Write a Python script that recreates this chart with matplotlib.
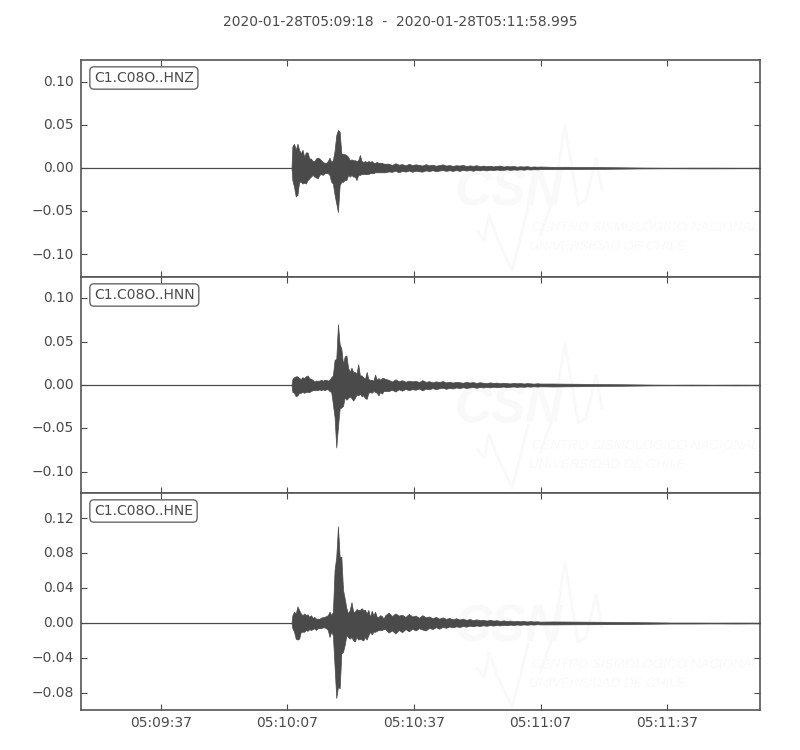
from datetime import datetime, timedelta
import matplotlib
matplotlib.use("Agg")
import matplotlib.pyplot as plt
import matplotlib.dates as mdates
from matplotlib.lines import Line2D
from matplotlib.transforms import ScaledTranslation

INK = "#4a4a4a"
TITLE = "2020-01-28T05:09:18  -  2020-01-28T05:11:58.995"
START = datetime(2020, 1, 28, 5, 9, 18)
END_SECONDS = 160.995
TICK_SECONDS = [19, 49, 79, 109, 139]
CHANNELS = ["C1.C08O..HNZ", "C1.C08O..HNN", "C1.C08O..HNE"]

PRE_T = [0, 50.0]
PRE_AMP = [0.0003, 0.0003]

EVENT_T = [50.2, 50.6, 51.0, 51.4, 51.8, 52.2, 52.6, 53.0, 53.4, 53.8, 54.2, 54.6, 55.0, 55.4,
           55.8, 56.2, 56.6, 57.0, 57.4, 57.8, 58.2, 58.6, 59.0, 59.4, 59.8, 60.2, 60.6, 61.0,
           61.4, 61.8, 62.2, 62.6, 63.0, 63.4, 63.8, 64.2, 64.6, 65.0, 65.4, 65.8, 66.2, 66.6,
           67.0, 67.4, 67.8, 68.2, 68.6, 69.0, 69.4, 69.8, 70.2, 70.6, 71.0, 71.4, 71.8, 72.2]
TAIL_T = [73.0, 73.8, 74.6, 75.4, 76.2, 77.0, 77.8, 78.6, 79.4, 80.2,
          81.0, 81.8, 82.6, 83.4, 84.2, 85.0, 85.8, 86.6, 87.4, 88.2,
          89.0, 89.8, 90.6, 91.4, 92.2, 93.0, 93.8, 94.6, 95.4, 96.2,
          97.0, 97.8, 98.6, 99.4, 100.2, 101.0, 101.8, 102.6, 103.4, 104.2,
          105.0, 105.8, 106.6, 107.4, 108.2, 109.0,
          112, 115, 118, 121, 124, 128, 132, 136, 140, 145, 150, 155, 161]

HNZ_UP = [.025, .028, .021, .028, .021, .017, .021, .013, .018, .018, .011, .011, .008, .008,
          .011, .012, .011, .009, .007, .006, .006, .008, .012, .007, .009, .020, .038, .044,
          .042, .017, .016, .016, .015, .013, .009, .010, .009, .009, .008, .009, .015, .008,
          .007, .008, .007, .008, .007, .008, .006, .006, .007, .006, .006, .006, .005, .005]
HNZ_LOW = [-.014, -.022, -.033, -.031, -.016, -.016, -.018, -.017, -.018, -.014, -.012, -.010,
           -.008, -.010, -.011, -.012, -.008, -.007, -.008, -.006, -.006, -.006, -.008, -.016,
           -.018, -.031, -.041, -.051, -.020, -.016, -.016, -.014, -.014, -.008, -.010, -.008,
           -.010, -.010, -.014, -.008, -.008, -.007, -.007, -.007, -.007, -.007, -.006, -.006,
           -.006, -.005, -.005, -.005, -.005, -.005, -.005, -.005]
HNZ_TAIL_UP = [.005, .0035, .0055, .0038, .0045, .003, .0048, .0034, .0042, .0036,
               .0028, .0044, .003, .0038, .0026, .0034, .0042, .0028, .0034, .0024,
               .0032, .0028, .0036, .0022, .003, .0025, .0032, .002, .0028, .0022,
               .0026, .0018, .0024, .0028, .0017, .0022, .0019, .0024, .0015, .002,
               .0017, .0021, .0014, .0018, .0015, .0017,
               .0013, .0014, .0011, .0012, .001, .0008, .0006, .0005, .0004, .0005, .0005, .0004, .0004]
HNZ_TAIL_LOW = [-.004, -.0045, -.0032, -.005, -.0034, -.0042, -.003, -.0044, -.0032, -.0038,
                -.0042, -.0028, -.0036, -.0026, -.0038, -.003, -.0024, -.0034, -.0026, -.0034,
                -.0024, -.0034, -.0022, -.003, -.0024, -.0032, -.0022, -.0028, -.002, -.0028,
                -.002, -.0026, -.0018, -.0024, -.0022, -.0016, -.0022, -.0017, -.002, -.0016,
                -.002, -.0014, -.0018, -.0014, -.0016, -.0013,
                -.0013, -.0012, -.0012, -.001, -.001, -.0008, -.0006, -.0005, -.0004, -.0005, -.0005, -.0004, -.0004]

HNN_UP = [.007, .009, .010, .010, .008, .007, .009, .008, .010, .011, .008, .007, .006, .004,
          .005, .005, .005, .006, .005, .006, .006, .005, .006, .009, .011, .029, .030, .070,
          .047, .042, .024, .033, .034, .020, .015, .020, .015, .015, .013, .024, .011, .011,
          .009, .007, .015, .007, .006, .006, .005, .012, .006, .008, .006, .008, .008, .007]
HNN_LOW = [-.008, -.009, -.013, -.012, -.009, -.009, -.008, -.009, -.008, -.008, -.008, -.007,
           -.006, -.006, -.006, -.006, -.005, -.006, -.005, -.006, -.005, -.005, -.007, -.008,
           -.022, -.037, -.072, -.048, -.027, -.026, -.024, -.014, -.017, -.015, -.013, -.015,
           -.018, -.015, -.011, -.012, -.010, -.013, -.012, -.015, -.016, -.009, -.008, -.009,
           -.007, -.008, -.009, -.012, -.008, -.010, -.007, -.007]
HNN_TAIL_UP = [.006, .004, .0065, .0045, .0055, .0038, .005, .0042, .0048, .0034,
               .0056, .0036, .0044, .003, .0042, .0034, .0046, .003, .0038, .0028,
               .0036, .0032, .0026, .0036, .0028, .0034, .0024, .0032, .0026, .0022,
               .003, .0024, .0028, .002, .0026, .0022, .0018, .0025, .002, .0023,
               .0017, .0022, .0019, .0016, .002, .0017,
               .0017, .0015, .0014, .0012, .001, .0009, .0007, .0005, .0004, .0005, .0004, .0005, .0004]
HNN_TAIL_LOW = [-.007, -.0055, -.0075, -.005, -.0065, -.0045, -.006, -.0048, -.0055, -.004,
                -.0062, -.0042, -.005, -.0036, -.0048, -.0038, -.0032, -.0044, -.0034, -.004,
                -.0028, -.0036, -.0026, -.0034, -.0028, -.0024, -.0032, -.0024, -.0028, -.0022,
                -.0028, -.002, -.0026, -.0022, -.0018, -.0024, -.002, -.0017, -.0022, -.0018,
                -.0021, -.0016, -.0019, -.0015, -.0018, -.0015,
                -.0017, -.0015, -.0014, -.0012, -.001, -.0009, -.0007, -.0005, -.0004, -.0005, -.0004, -.0005, -.0004]

HNE_UP = [.009, .013, .011, .019, .015, .011, .009, .011, .009, .010, .007, .009, .006, .007,
          .005, .005, .005, .006, .007, .007, .008, .009, .013, .009, .013, .061, .076, .111,
          .076, .076, .038, .028, .017, .011, .015, .024, .013, .013, .016, .015, .015, .017,
          .015, .015, .011, .015, .007, .014, .009, .013, .007, .007, .009, .008, .005, .009]
HNE_LOW = [-.006, -.010, -.018, -.019, -.018, -.010, -.010, -.010, -.008, -.009, -.007, -.008,
           -.007, -.006, -.008, -.006, -.006, -.006, -.005, -.005, -.006, -.008, -.016, -.010,
           -.014, -.050, -.086, -.073, -.075, -.035, -.033, -.025, -.014, -.016, -.018, -.016,
           -.020, -.021, -.016, -.019, -.018, -.019, -.020, -.016, -.019, -.014, -.010, -.013,
           -.010, -.010, -.009, -.008, -.008, -.008, -.007, -.007]
HNE_TAIL_UP = [.012, .008, .011, .0085, .0095, .007, .0105, .0075, .0085, .006,
               .009, .0065, .0075, .0055, .007, .005, .0065, .0048, .0058, .0042,
               .0055, .004, .005, .0036, .0046, .0034, .0042, .0032, .0038, .0028,
               .0036, .0028, .0032, .0024, .003, .0023, .0028, .002, .0026, .002,
               .0024, .0018, .0022, .0018, .002, .0016,
               .0018, .0017, .0016, .0015, .0014, .0012, .001, .0008, .0006, .0006, .0005, .0006, .0005]
HNE_TAIL_LOW = [-.011, -.0085, -.012, -.008, -.0105, -.007, -.0095, -.0065, -.0085, -.006,
                -.0075, -.0085, -.0055, -.007, -.0048, -.0065, -.0045, -.0055, -.004, -.005,
                -.0038, -.0046, -.0034, -.0042, -.003, -.0038, -.0028, -.0034, -.0026, -.0032,
                -.0024, -.003, -.0022, -.0028, -.002, -.0025, -.0018, -.0023, -.0017, -.0021,
                -.0016, -.002, -.0015, -.0018, -.0014, -.0016,
                -.0016, -.0015, -.0014, -.0014, -.0013, -.0012, -.001, -.0008, -.0006, -.0006, -.0005, -.0006, -.0005]

UPPERS = [HNZ_UP + HNZ_TAIL_UP, HNN_UP + HNN_TAIL_UP, HNE_UP + HNE_TAIL_UP]
LOWERS = [HNZ_LOW + HNZ_TAIL_LOW, HNN_LOW + HNN_TAIL_LOW, HNE_LOW + HNE_TAIL_LOW]
YTICKS = [[-.10, -.05, 0, .05, .10], [-.10, -.05, 0, .05, .10], [-.08, -.04, 0, .04, .08, .12]]
YLIMS = [(-.1261, .1249), (-.1245, .1245), (-.0998, .1492)]

WATERMARK_SHIFT = [0, 218, 437]
LOGO_PEAK_X = [540, 553, 565, 578, 586, 596, 602]
LOGO_PEAK_Y = [235, 200, 125, 205, 200, 158, 190]
LOGO_LOW_X = [478, 484, 489, 498, 512, 520, 528]
LOGO_LOW_Y = [232, 240, 216, 240, 270, 240, 207]


def stamp(seconds):
    return mdates.date2num(START + timedelta(seconds=seconds))


plt.rcParams["font.family"] = "DejaVu Sans"
plt.rcParams["font.size"] = 10
fig = plt.figure(figsize=(8, 7.5), dpi=100, facecolor="white")
fig.text(0.5, 1 - 22 / 750, TITLE, ha="center", va="center", fontsize=10, color=INK)

tops = [60, 277, 493]
bottoms = [277, 493, 710]
x_all = [stamp(s) for s in PRE_T + EVENT_T + TAIL_T]
x_min, x_max = stamp(0), stamp(END_SECONDS)
label_up = ScaledTranslation(0, 1.0 / 72, fig.dpi_scale_trans)

for i, ch in enumerate(CHANNELS):
    ax = fig.add_axes([80.5 / 800, 1 - bottoms[i] / 750, (760 - 80.5) / 800, (bottoms[i] - tops[i]) / 750])
    ax.set_facecolor("white")
    up = PRE_AMP + UPPERS[i]
    low = [-a for a in PRE_AMP] + LOWERS[i]
    ax.fill_between(x_all, low, up, facecolor=INK, edgecolor=INK, linewidth=0.5, zorder=3)

    shift = WATERMARK_SHIFT[i]
    fx = lambda p: p / 800
    fy = lambda p: 1 - (p + shift) / 750
    wm = "#f9f9f9"
    ax.text(fx(454), fy(205), "CSN", transform=fig.transFigure, family="Liberation Sans",
            style="italic", weight="bold", fontsize=37, color=wm, ha="left", va="baseline", zorder=1)
    ax.text(fx(532), fy(231), "CENTRO SISMOLÓGICO NACIONAL", transform=fig.transFigure,
            family="Liberation Sans", style="italic", fontsize=9.6, color=wm,
            ha="left", va="baseline", zorder=1)
    ax.text(fx(529), fy(250), "UNIVERSIDAD DE CHILE", transform=fig.transFigure,
            family="Liberation Sans", style="italic", fontsize=9.6, color=wm,
            ha="left", va="baseline", zorder=1)
    for xs, ys in ((LOGO_PEAK_X, LOGO_PEAK_Y), (LOGO_LOW_X, LOGO_LOW_Y)):
        ax.add_line(Line2D([fx(p) for p in xs], [fy(p) for p in ys], transform=fig.transFigure,
                           color=wm, lw=2, zorder=1, clip_on=True))

    ax.set_xlim(x_min, x_max)
    ax.set_ylim(*YLIMS[i])
    ax.set_yticks(YTICKS[i])
    ax.set_yticklabels([("%.2f" % v).replace("-", "\u2212") for v in YTICKS[i]])
    ax.set_xticks([stamp(s) for s in TICK_SECONDS])
    ax.xaxis.set_major_formatter(mdates.DateFormatter("%H:%M:%S"))
    ax.tick_params(axis="both", direction="in", top=True, right=True, length=4, width=0.8,
                   color=INK, labelcolor=INK, labelsize=10)
    ax.tick_params(axis="y", pad=4.5)
    ax.tick_params(axis="x", labelbottom=(i == 2), pad=4.5)
    for lab in ax.get_yticklabels():
        lab.set_transform(lab.get_transform() + label_up)
    for s in ax.spines.values():
        s.set_color("#555555")
        s.set_linewidth(1.2)
    ax.text(94 / 800, 1 - (tops[i] + 18) / 750, ch, transform=fig.transFigure, fontsize=10, color=INK,
            ha="left", va="center", zorder=5,
            bbox=dict(boxstyle="round,pad=0.3", fc="white", ec="#666666", lw=1.0))

fig.savefig("out.png", dpi=100, facecolor="white")
